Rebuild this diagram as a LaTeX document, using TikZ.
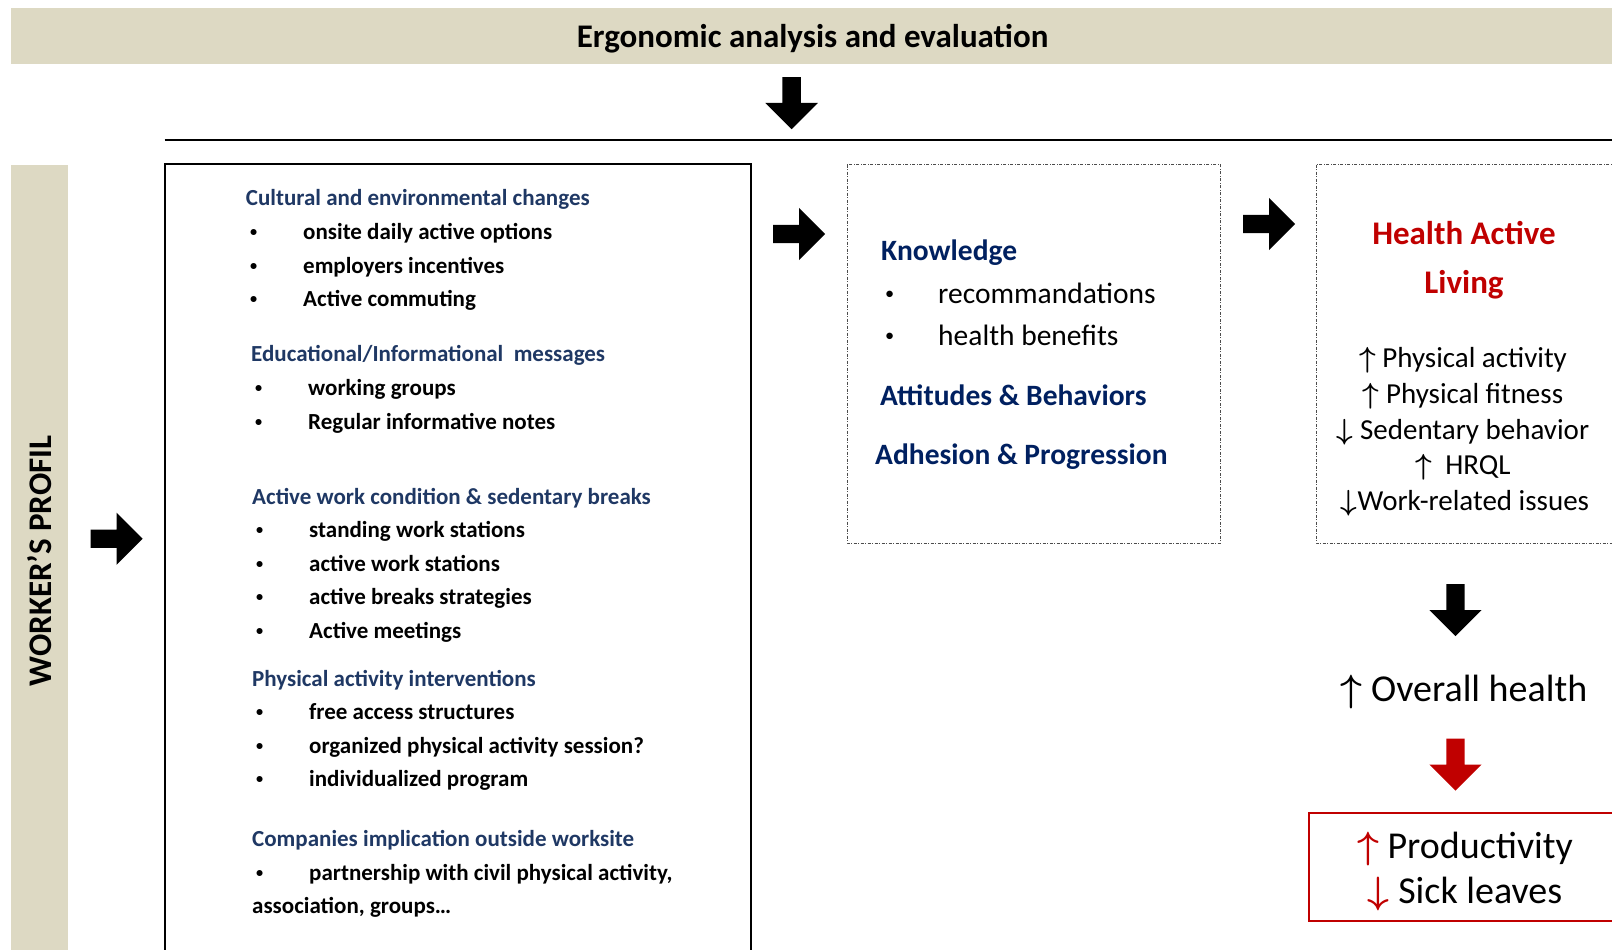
\RequirePackage{fix-cm}
\documentclass[tikz,border=0pt]{standalone}
\usepackage{fontspec}
\setmainfont{Carlito}
\usetikzlibrary{shapes.arrows}
\definecolor{bandtan}{RGB}{221,217,195}
\definecolor{headblue}{RGB}{31,56,100}
\definecolor{knowblue}{RGB}{0,32,96}
\definecolor{alertred}{RGB}{192,0,0}
\newcommand{\incr}{{\boldmath$\uparrow$}}
\newcommand{\decr}{{\boldmath$\downarrow$}}
\newcommand{\bul}{\makebox[53pt][l]{\raisebox{0.12em}{\scalebox{0.62}{\textbullet}}}}
\tikzset{
  % beige bands behind the two titles
  band/.style={fill=bandtan, draw=none},
  bandtitle/.style={inner sep=0pt, font=\bfseries\fontsize{33}{40}\selectfont},
  % thick black block arrow, points right unless rotated
  blockarrow/.style={single arrow, fill=black, draw=none, inner sep=0pt,
    inner ysep=9pt, minimum height=52pt, minimum width=52pt,
    single arrow head extend=17pt, single arrow tip angle=90, anchor=tail},
  % frames
  mainframe/.style={draw=black, line width=2pt},
  dashframe/.style={draw=black!70, line width=1pt,
    dash pattern=on 3pt off 1.5pt on 1pt off 1.5pt},
  redframe/.style={draw=alertred, line width=1.6pt},
  % text lines in the left frame
  lefthead/.style={anchor=west, inner sep=0pt, text height=16pt, text depth=5pt,
    text=headblue, font=\bfseries\fontsize{23}{28}\selectfont},
  leftitem/.style={lefthead, text=black},
  % text lines in the middle frame
  midhead/.style={anchor=west, inner sep=0pt, text height=21pt, text depth=6pt,
    text=knowblue, font=\bfseries\fontsize{29.5}{34}\selectfont},
  miditem/.style={midhead, text=black, font=\fontsize{29.5}{34}\selectfont},
  % text lines on the right
  righthead/.style={inner sep=0pt, text height=23pt, text depth=7pt,
    text=alertred, font=\bfseries\fontsize{33}{40}\selectfont},
  rightitem/.style={inner sep=0pt, text height=21pt, text depth=6pt,
    font=\fontsize{29}{34}\selectfont},
  bigitem/.style={inner sep=0pt, text height=27pt, text depth=8pt,
    font=\fontsize{38}{44}\selectfont},
}

\begin{document}
\begin{tikzpicture}[x=1pt,y=-1pt]
\useasboundingbox (0,0) rectangle (1612,950);
\clip (0,0) rectangle (1612,950);

% bands and their titles
\fill[band] (11,8) rectangle (1612,64);
\fill[band] (11,164.5) rectangle (68,960);
\node[bandtitle] (ergo) at (812.6,39) {Ergonomic analysis and evaluation};
\node[bandtitle, rotate=90] (profil) at (39.5,561) {WORKER’S PROFIL};

% rule under the top arrow
\coordinate (rulewest) at (164.5,140);
\coordinate (ruleeast) at (1612,140);
\draw[line width=2pt] (rulewest) -- (ruleeast);

% frames
\draw[mainframe] (164.5,163.5) rectangle (750.5,975);
\draw[dashframe] (847,164.5) rectangle (1220,543);
\draw[dashframe] (1316,164.5) rectangle (1630,543);
\draw[redframe] (1309,813) rectangle (1630,921);

% block arrows (placed by their tail)
\node[blockarrow, rotate=-90] (downtop) at (791.6,77) {};
\node[blockarrow] (toleft) at (90.5,538.7) {};
\node[blockarrow] (tomid) at (773,234) {};
\node[blockarrow] (toright) at (1243,224) {};
\node[blockarrow, rotate=-90] (tooverall) at (1455.5,584) {};
\node[blockarrow, rotate=-90, fill=alertred] (toprod) at (1455.5,738.5) {};

% left frame
\node[lefthead] (cult) at (245.7,200) {Cultural and environmental changes};
\node[leftitem] (cult1) at (250,234) {\bul onsite daily active options};
\node[leftitem] (cult2) at (250,268) {\bul employers incentives};
\node[leftitem] (cult3) at (250,301) {\bul Active commuting};
\node[lefthead] (educ) at (251,355.6) {Educational/Informational\ \ messages};
\node[leftitem] (educ1) at (255,389.5) {\bul working groups};
\node[leftitem] (educ2) at (255,423.5) {\bul Regular informative notes};
\node[lefthead] (work) at (252,498.5) {Active work condition \& sedentary breaks};
\node[leftitem] (work1) at (256,532) {\bul standing work stations};
\node[leftitem] (work2) at (256,566) {\bul active work stations};
\node[leftitem] (work3) at (256,599) {\bul active breaks strategies};
\node[leftitem] (work4) at (256,633) {\bul Active meetings};
\node[lefthead] (phys) at (252,680.5) {Physical activity interventions};
\node[leftitem] (phys1) at (256,714) {\bul free access structures};
\node[leftitem] (phys2) at (256,748) {\bul organized physical activity session?};
\node[leftitem] (phys3) at (256,781) {\bul individualized program};
\node[lefthead] (comp) at (252,841) {Companies implication outside worksite};
\node[leftitem] (comp1) at (256,875) {\bul partnership with civil physical activity,};
\node[leftitem] (comp2) at (252,908) {association, groups…};

% middle frame
\node[midhead] (know) at (881,253) {Knowledge};
\node[miditem] (know1) at (885,296) {\bul recommandations};
\node[miditem] (know2) at (885,338) {\bul health benefits};
\node[midhead] (attit) at (880,398) {Attitudes \& Behaviors};
\node[midhead] (adhes) at (875,457) {Adhesion \& Progression};

% right frame
\node[righthead] (hal1) at (1464,236) {Health Active};
\node[righthead] (hal2) at (1464,285) {Living};
\node[rightitem] (res1) at (1463,360) {\incr\ Physical activity};
\node[rightitem] (res2) at (1463,396) {\incr\ Physical fitness};
\node[rightitem] (res3) at (1463,432) {\decr\ Sedentary behavior};
\node[rightitem] (res4) at (1463,467) {\incr\ \ HRQL};
\node[rightitem] (res5) at (1465,503) {\decr Work-related issues};

% outcomes
\node[bigitem] (overall) at (1464,692) {\incr\ Overall health};
\node[bigitem] (prod) at (1465,849) {\textcolor{alertred}{\incr}\ Productivity};
\node[bigitem] (sick) at (1465,894) {\textcolor{alertred}{\decr}\ Sick leaves};
\end{tikzpicture}
\end{document}
